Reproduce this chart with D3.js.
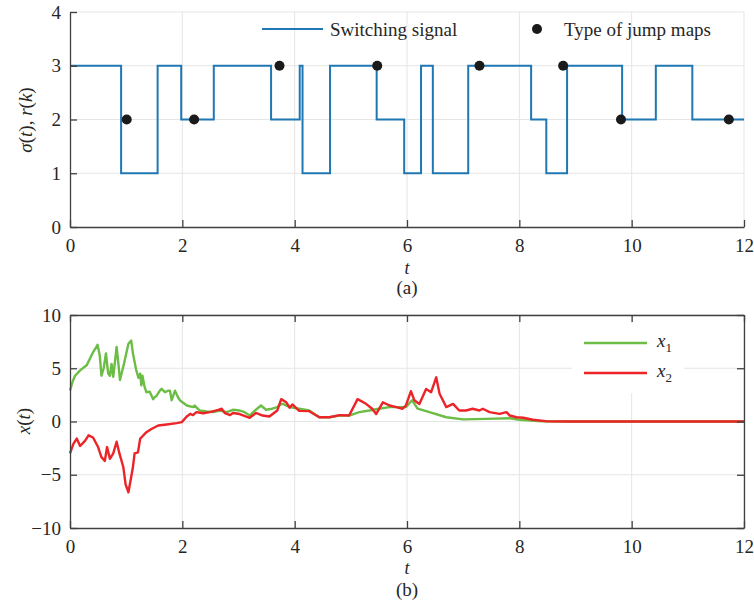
<!DOCTYPE html>
<html>
<head>
<meta charset="utf-8">
<script src="https://cdn.jsdelivr.net/npm/d3@7"></script>
<style>
  body { margin: 0; background: #fff; }
  text { font-family: "Liberation Serif", "DejaVu Serif", serif; fill: #262626; }
</style>
</head>
<body>
<script>
// switching signal (a)
const switchT = [0, 0.91, 1.56, 1.98, 2.56, 3.58, 4.09, 4.14, 4.63, 5.46, 5.95, 6.25, 6.46, 7.09, 8.21, 8.48, 8.85, 9.83, 10.43, 11.08, 12];
const switchVals = [3, 1, 3, 2, 3, 2, 3, 1, 3, 2, 1, 3, 1, 3, 2, 1, 3, 2, 3, 2, 2];
const jumpT = [1.01, 2.21, 3.73, 5.47, 7.29, 8.78, 9.81, 11.73];
const jumpVals = [2, 2, 3, 3, 3, 3, 2, 2];

// states (b)
const x1T = [0, 0.05, 0.09, 0.18, 0.3, 0.41, 0.47, 0.49, 0.53, 0.56, 0.6, 0.64, 0.68, 0.71, 0.74, 0.77, 0.83, 0.86, 0.89, 0.96,
  1.04, 1.09, 1.12, 1.18, 1.22, 1.25, 1.27, 1.29, 1.33, 1.36, 1.42, 1.48, 1.51, 1.54, 1.6, 1.63, 1.69, 1.75, 1.78, 1.81,
  1.87, 1.92, 1.96, 2.08, 2.19, 2.22, 2.31, 2.43, 2.55, 2.67, 2.79, 2.9, 3.02, 3.1, 3.2, 3.28, 3.4, 3.49, 3.6, 3.69,
  3.75, 3.79, 3.91, 4.08, 4.26, 4.35, 4.44, 4.62, 4.8, 4.97, 5.15, 5.33, 5.5, 5.69, 5.98, 6.09, 6.19, 6.4, 6.7, 7.0,
  7.4, 7.83, 8.0, 8.4, 8.9, 12];
const x1Vals = [2.9, 3.8, 4.3, 4.8, 5.3, 6.5, 7.0, 7.2, 6.2, 4.3, 5.0, 6.4, 4.5, 4.3, 5.4, 4.2, 7.0, 5.5, 3.9, 5.4,
  7.3, 7.6, 6.4, 4.8, 4.1, 4.5, 3.4, 4.3, 3.2, 2.75, 2.8, 2.1, 2.3, 2.4, 2.9, 3.07, 2.75, 2.9, 2.9, 2.0,
  2.9, 2.3, 1.97, 1.5, 1.35, 1.5, 1.03, 0.94, 0.88, 1.03, 0.88, 1.1, 1.03, 0.9, 0.56, 0.97, 1.5, 1.1, 1.2, 1.35,
  1.6, 1.66, 1.35, 1.2, 1.03, 0.7, 0.4, 0.4, 0.56, 0.56, 0.88, 1.03, 1.2, 1.35, 1.35, 2.0, 1.2, 0.88, 0.4, 0.2,
  0.25, 0.3, 0.16, 0.03, 0, 0];

const x2T = [0, 0.06, 0.12, 0.18, 0.27, 0.33, 0.41, 0.5, 0.56, 0.62, 0.66, 0.71, 0.77, 0.83, 0.88, 0.95, 0.99, 1.04, 1.08, 1.12,
  1.15, 1.21, 1.25, 1.27, 1.36, 1.45, 1.57, 1.72, 1.9, 1.99, 2.08, 2.14, 2.19, 2.25, 2.37, 2.49, 2.64, 2.7, 2.76, 2.85,
  2.9, 3.02, 3.2, 3.31, 3.43, 3.55, 3.69, 3.76, 3.85, 3.91, 3.96, 4.08, 4.26, 4.44, 4.62, 4.8, 4.97, 5.12, 5.27, 5.38,
  5.45, 5.57, 5.69, 5.81, 5.92, 5.98, 6.07, 6.13, 6.22, 6.34, 6.43, 6.52, 6.58, 6.7, 6.82, 6.93, 7.05, 7.17, 7.29, 7.35,
  7.47, 7.65, 7.77, 7.83, 7.95, 8.07, 8.24, 8.47, 8.9, 12];
const x2Vals = [-3.0, -2.1, -1.6, -2.3, -1.8, -1.3, -1.5, -2.4, -3.35, -3.7, -2.4, -3.5, -3.0, -1.9, -3.0, -4.3, -5.9, -6.65, -5.5, -4.3,
  -3.0, -2.9, -1.6, -1.5, -1.0, -0.7, -0.38, -0.28, -0.15, -0.06, 0.47, 0.72, 0.6, 0.88, 0.78, 0.88, 1.1, 1.2, 0.78, 0.6,
  0.8, 0.7, 0.35, 0.8, 0.56, 0.47, 1.03, 2.1, 1.8, 1.3, 1.6, 1.0, 0.97, 0.4, 0.4, 0.6, 0.56, 2.1, 1.66, 1.2,
  0.7, 1.8, 1.5, 1.35, 1.2, 1.5, 2.85, 2.0, 1.65, 3.06, 2.75, 4.15, 2.6, 1.35, 1.65, 1.03, 1.03, 1.2, 1.03, 1.2,
  0.88, 0.72, 0.88, 0.56, 0.4, 0.35, 0.16, 0.03, 0, 0];

const tTicks = [0, 2, 4, 6, 8, 10, 12];
const topTicks = [0, 1, 2, 3, 4];
const botTicks = [-10, -5, 0, 5, 10];

const axisCol = "#404040";
const gridCol = "#e5e5e5";

let canevas = d3.select("body")
    .append("svg")
    .attr("width", 754)
    .attr("height", 601);

const x = d3.scaleLinear().domain([0, 12]).range([70, 744]);
const yTop = d3.scaleLinear().domain([0, 4]).range([227, 12]);
const yBot = d3.scaleLinear().domain([-10, 10]).range([528, 315]);

// grilles
function grid(y, ticks) {
    let g = canevas.append("g");
    g.selectAll("line.v").data(tTicks.slice(1)).enter().append("line")
        .attr("x1", d => x(d)).attr("x2", d => x(d))
        .attr("y1", y.range()[0]).attr("y2", y.range()[1])
        .attr("stroke", gridCol).attr("stroke-width", 1);
    g.selectAll("line.h").data(ticks.slice(1)).enter().append("line")
        .attr("x1", 70).attr("x2", 744)
        .attr("y1", d => y(d)).attr("y2", d => y(d))
        .attr("stroke", gridCol).attr("stroke-width", 1);
}
grid(yTop, topTicks);
grid(yBot, botTicks);

// axes
function axes(y, ticks, box) {
    let bottom = canevas.append("g")
        .attr("transform", `translate(0,${y.range()[0]})`)
        .call(d3.axisBottom(x).tickValues(tTicks).tickSizeInner(-7).tickSizeOuter(0).tickPadding(12));
    let left = canevas.append("g")
        .attr("transform", "translate(70,0)")
        .call(d3.axisLeft(y).tickValues(ticks).tickSizeInner(-7).tickSizeOuter(0).tickPadding(9)
            .tickFormat(d => d < 0 ? "\u2212" + Math.abs(d) : d));
    let all = [bottom, left];
    if (box) {
        all.push(canevas.append("g")
            .attr("transform", `translate(0,${y.range()[1]})`)
            .call(d3.axisTop(x).tickValues(tTicks).tickSizeInner(-7).tickSizeOuter(0).tickFormat("")));
        all.push(canevas.append("g")
            .attr("transform", "translate(744,0)")
            .call(d3.axisRight(y).tickValues(ticks).tickSizeInner(-7).tickSizeOuter(0).tickFormat("")));
    }
    all.forEach(a => {
        a.attr("font-family", null);
        a.select(".domain").attr("stroke", axisCol).attr("stroke-width", 1.3);
        a.selectAll(".tick line").attr("stroke", axisCol).attr("stroke-width", 1.3);
        a.selectAll(".tick text")
            .style("font-family", "'Liberation Serif', serif")
            .style("font-size", "19px")
            .attr("fill", "#262626");
    });
}

// (a) switching signal
const stepLine = d3.line()
    .x(d => x(d[0]))
    .y(d => yTop(d[1]))
    .curve(d3.curveStepAfter);

canevas.append("path")
    .datum(d3.zip(switchT, switchVals))
    .attr("d", stepLine)
    .attr("fill", "none")
    .attr("stroke", "#1f77b4")
    .attr("stroke-width", 2);

canevas.selectAll("circle.jump")
    .data(d3.zip(jumpT, jumpVals))
    .enter().append("circle")
    .attr("class", "jump")
    .attr("cx", d => x(d[0]))
    .attr("cy", d => yTop(d[1]))
    .attr("r", 5)
    .attr("fill", "#1a1a1a");

axes(yTop, topTicks, false);

// legende (a)
canevas.append("line")
    .attr("x1", 262).attr("x2", 323).attr("y1", 29).attr("y2", 29)
    .attr("stroke", "#1f77b4").attr("stroke-width", 2);
canevas.append("text")
    .attr("x", 330).attr("y", 36)
    .style("font-size", "19px")
    .text("Switching signal");
canevas.append("circle")
    .attr("cx", 537).attr("cy", 29).attr("r", 5).attr("fill", "#1a1a1a");
canevas.append("text")
    .attr("x", 564).attr("y", 36)
    .style("font-size", "19px")
    .text("Type of jump maps");

// labels (a)
canevas.append("text")
    .attr("transform", "translate(32,120) rotate(-90)")
    .attr("text-anchor", "middle")
    .style("font-size", "19px")
    .html('<tspan font-style="italic">σ</tspan>(<tspan font-style="italic">t</tspan>), <tspan font-style="italic">r</tspan>(<tspan font-style="italic">k</tspan>)');
canevas.append("text")
    .attr("x", 407).attr("y", 274)
    .attr("text-anchor", "middle")
    .style("font-size", "18px").style("font-style", "italic")
    .text("t");
canevas.append("text")
    .attr("x", 407).attr("y", 294)
    .attr("text-anchor", "middle")
    .style("font-size", "19px")
    .text("(a)");

// (b) states
const stateLine = d3.line()
    .x(d => x(d[0]))
    .y(d => yBot(d[1]));

canevas.append("path")
    .datum(d3.zip(x1T, x1Vals))
    .attr("d", stateLine)
    .attr("fill", "none")
    .attr("stroke", "#6cbd45")
    .attr("stroke-width", 2.4)
    .attr("stroke-linejoin", "round");

canevas.append("path")
    .datum(d3.zip(x2T, x2Vals))
    .attr("d", stateLine)
    .attr("fill", "none")
    .attr("stroke", "#ec2327")
    .attr("stroke-width", 2.4)
    .attr("stroke-linejoin", "round");

axes(yBot, botTicks, true);

// legende (b)
canevas.append("rect")
    .attr("x", 572).attr("y", 323).attr("width", 112).attr("height", 70)
    .attr("fill", "#fff");
const legB = [["#6cbd45", "1", 343], ["#ec2327", "2", 373]];
legB.forEach(l => {
    canevas.append("line")
        .attr("x1", 584).attr("x2", 647).attr("y1", l[2]).attr("y2", l[2])
        .attr("stroke", l[0]).attr("stroke-width", 2.4);
    canevas.append("text")
        .attr("x", 657).attr("y", l[2] + 4)
        .style("font-size", "19px")
        .html(`<tspan font-style="italic">x</tspan><tspan font-size="13px" dy="5">${l[1]}</tspan>`);
});

// labels (b)
canevas.append("text")
    .attr("transform", "translate(30,421) rotate(-90)")
    .attr("text-anchor", "middle")
    .style("font-size", "19px")
    .html('<tspan font-style="italic">x</tspan>(<tspan font-style="italic">t</tspan>)');
canevas.append("text")
    .attr("x", 407).attr("y", 574)
    .attr("text-anchor", "middle")
    .style("font-size", "18px").style("font-style", "italic")
    .text("t");
canevas.append("text")
    .attr("x", 407).attr("y", 596)
    .attr("text-anchor", "middle")
    .style("font-size", "19px")
    .text("(b)");
</script>
</body>
</html>
